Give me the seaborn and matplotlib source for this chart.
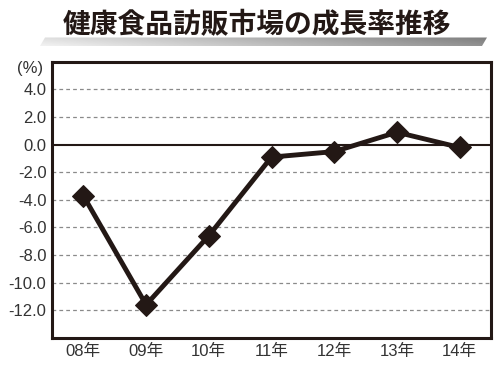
import numpy as np
import pandas as pd
import matplotlib
matplotlib.use("Agg")
import matplotlib.pyplot as plt
from matplotlib.patches import Polygon
import seaborn as sns

years = ["08年", "09年", "10年", "11年", "12年", "13年", "14年"]
growth = [-3.7, -11.6, -6.6, -0.9, -0.5, 0.9, -0.2]
yticks = [4.0, 2.0, 0.0, -2.0, -4.0, -6.0, -8.0, -10.0, -12.0]
title = "健康食品訪販市場の成長率推移"
unit = "(%)"

sns.set_theme(style="white")
plt.rcParams['font.family'] = ['Noto Sans CJK JP', 'DejaVu Sans']
tickfam = ['Liberation Sans', 'Noto Sans CJK JP']

ink = "#231815"
df = pd.DataFrame({"year": years, "growth": growth})

fig = plt.figure(figsize=(5, 3.75), dpi=100)
ax = fig.add_axes([0.104, 0.099, 0.878, 0.736])

for y in yticks:
    if y == 0:
        ax.axhline(y, color=ink, lw=1.5, zorder=1)
    else:
        ax.axhline(y, color="#8a8a8a", lw=0.9, ls=(0, (3, 2.5)), zorder=1)

sns.lineplot(data=df, x="year", y="growth", ax=ax, color=ink, lw=3.5,
             marker="D", markersize=11, markeredgecolor=ink, sort=False, zorder=3)

ax.set_xlim(-0.5, 6.5)
ax.set_ylim(-14, 6)
ax.set_yticks(yticks)
ax.set_yticklabels([f"{v:.1f}" for v in yticks])
ax.set_xlabel("")
ax.set_ylabel("")
ax.tick_params(axis="both", labelsize=12, colors="#333333", length=0, pad=4)
for lab in ax.get_xticklabels() + ax.get_yticklabels():
    lab.set_family(tickfam)
for s in ax.spines.values():
    s.set_color(ink)
    s.set_linewidth(2.2)

# (%) label
fig.text(0.06, 0.818, unit, fontsize=12, color="#333333", ha="center", va="center",
         family=tickfam)

# title gradient bar
bax = fig.add_axes([0, 0, 1, 1], zorder=-1)
bax.set_xlim(0, 500)
bax.set_ylim(375, 0)
bax.axis("off")
xs = np.linspace(0, 1, 256)
ys = np.linspace(0, 1, 16)
X, Y = np.meshgrid(xs, ys)
grad = 0.95 - 0.38 * X - 0.08 * (1 - Y)
img = bax.imshow(grad, cmap="gray", vmin=0, vmax=1, extent=(40, 487, 46, 37.5),
                 aspect="auto", interpolation="bilinear")
poly = Polygon([(40, 46), (45, 37.5), (487, 37.5), (482, 46)], closed=True,
               transform=bax.transData, facecolor="none", edgecolor="none")
bax.add_patch(poly)
img.set_clip_path(poly)

fig.text(0.514, 0.932, title, fontsize=20, fontweight="bold", color=ink,
         ha="center", va="center")

fig.savefig("out.png", dpi=100, facecolor="white")
